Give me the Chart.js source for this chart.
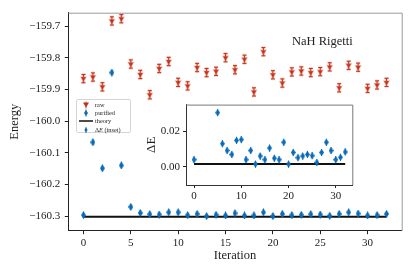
<!DOCTYPE html>
<html>
<head>
<meta charset="utf-8">
<script src="https://cdn.jsdelivr.net/npm/chart.js@4/dist/chart.umd.min.js"></script>
<style>
    html, body { margin: 0; padding: 0; background: #fff; }
    #wrap { position: relative; width: 415px; height: 277px; font-family: "Liberation Serif", serif; color: #222; }
    #mainChart { position: absolute; left: 0; top: 0; }
    #insetChart { position: absolute; left: 140px; top: 95px; }
    #tag { position: absolute; left: 292px; top: 33px; font-size: 12.5px; line-height: 16px; white-space: nowrap; }
    #legend {
        position: absolute; left: 76px; top: 99px; width: 55px; height: 34px;
        border: 1px solid #d4d4d4; border-radius: 2px; background: rgba(255,255,255,0.85);
        box-sizing: border-box; font-size: 6.3px;
    }
    #legend .row { position: absolute; left: 0; height: 8px; width: 100%; }
    #legend svg { position: absolute; left: 1px; top: 0; }
    #legend span { position: absolute; left: 18px; top: 0; line-height: 8px; white-space: nowrap; }
</style>
</head>
<body>
<div id="wrap">
    <canvas id="mainChart" width="415" height="277"></canvas>
    <canvas id="insetChart" width="220" height="110"></canvas>
    <div id="tag">NaH Rigetti</div>
    <div id="legend"></div>
</div>
<script>
const iterations = [0, 1, 2, 3, 4, 5, 6, 7, 8, 9, 10, 11, 12, 13, 14, 15, 16, 17, 18, 19, 20, 21, 22, 23, 24, 25, 26, 27, 28, 29, 30, 31, 32];

const rawEnergy = [-159.866, -159.861, -159.892, -159.684, -159.677, -159.820, -159.853, -159.917, -159.834, -159.812,
    -159.878, -159.889, -159.831, -159.847, -159.843, -159.800, -159.838, -159.805, -159.908, -159.781,
    -159.854, -159.880, -159.845, -159.842, -159.847, -159.844, -159.829, -159.895, -159.824, -159.830,
    -159.897, -159.886, -159.878];

const purifiedEnergy = [-160.297, -160.067, -160.149, -159.847, -160.140, -160.271, -160.290, -160.294, -160.295, -160.288,
    -160.288, -160.297, -160.293, -160.300, -160.296, -160.298, -160.291, -160.298, -160.298, -160.288,
    -160.300, -160.293, -160.297, -160.296, -160.294, -160.295, -160.299, -160.293, -160.288, -160.292,
    -160.298, -160.297, -160.293];

const deltaE = [0.0041, 0.235, 0.153, 0.455, 0.162, 0.0304, 0.0130, 0.0092, 0.0070, 0.0149,
    0.0153, 0.0041, 0.0092, 0.0016, 0.0061, 0.0041, 0.0106, 0.0049, 0.0041, 0.0138,
    0.0016, 0.0081, 0.0052, 0.0061, 0.0070, 0.0063, 0.0025, 0.0081, 0.0138, 0.0092,
    0.0041, 0.0054, 0.0084];

const theoryEnergy = -160.302;
const chemAccuracy = 0.0016;
const rawErr = 0.013;
const purifiedErr = 0.010;
const deltaErr = 0.002;

const xTicks = [0, 5, 10, 15, 20, 25, 30];
const yTicks = [-160.3, -160.2, -160.1, -160.0, -159.9, -159.8, -159.7];
const insetXTicks = [0, 10, 20, 30];
const insetYTicks = [0.00, 0.02];

const RED = "#c0301a";
const BLUE = "#0a6cb9";
const INK = "#222";

function diamond(w, h, color) {
    const c = document.createElement("canvas");
    c.width = w; c.height = h;
    const g = c.getContext("2d");
    g.fillStyle = color;
    g.beginPath();
    g.moveTo(w / 2, 0);
    g.lineTo(w, h / 2);
    g.lineTo(w / 2, h);
    g.lineTo(0, h / 2);
    g.closePath();
    g.fill();
    return c;
}

function toPoints(values) {
    return iterations.map((x, i) => ({ x: x, y: values[i] }));
}

const errorBars = {
    id: "errorBars",
    beforeDatasetDraw(chart, args) {
        const ds = chart.data.datasets[args.index];
        if (!ds.errSize) return;
        const { ctx, chartArea } = chart;
        const yScale = chart.scales.y;
        ctx.save();
        ctx.beginPath();
        ctx.rect(chartArea.left, chartArea.top, chartArea.width, chartArea.height);
        ctx.clip();
        args.meta.data.forEach((pt, i) => {
            const v = ds.data[i].y;
            const y1 = yScale.getPixelForValue(v + ds.errSize);
            const y2 = yScale.getPixelForValue(v - ds.errSize);
            const x = pt.x;
            const cap = ds.errCap || 0;
            const passes = ds.errHalo ? [[ds.errHalo, 2.6], [ds.errColor, 1]] : [[ds.errColor, 1]];
            passes.forEach(([col, lw]) => {
                ctx.strokeStyle = col;
                ctx.lineWidth = lw;
                ctx.beginPath();
                ctx.moveTo(x, y1); ctx.lineTo(x, y2);
                if (cap) {
                    ctx.moveTo(x - cap, y1); ctx.lineTo(x + cap, y1);
                    ctx.moveTo(x - cap, y2); ctx.lineTo(x + cap, y2);
                }
                ctx.stroke();
            });
        });
        ctx.restore();
    }
};

// light top/right spines, and white face for the inset
const frame = {
    id: "frame",
    beforeDraw(chart, args, opts) {
        if (!opts.fill) return;
        const a = chart.chartArea;
        chart.ctx.save();
        chart.ctx.fillStyle = opts.fill;
        chart.ctx.fillRect(a.left, a.top, a.width, a.height);
        chart.ctx.restore();
    },
    afterDraw(chart, args, opts) {
        const a = chart.chartArea;
        const ctx = chart.ctx;
        ctx.save();
        ctx.strokeStyle = opts.color || "#999";
        ctx.lineWidth = 1;
        ctx.beginPath();
        ctx.moveTo(a.left, a.top + 0.5);
        ctx.lineTo(a.right + 0.5, a.top + 0.5);
        ctx.lineTo(a.right + 0.5, a.bottom);
        ctx.stroke();
        ctx.restore();
    }
};

function setTicks(list) {
    return function (scale) {
        scale.ticks = list.map(v => ({ value: v }));
    };
}

const tickFont = { family: "Liberation Serif", size: 11 };

new Chart(document.getElementById("mainChart"), {
    type: "scatter",
    data: {
        datasets: [
            {
                label: "raw",
                data: toPoints(rawEnergy),
                pointStyle: "triangle",
                rotation: 180,
                pointRadius: 3,
                backgroundColor: RED,
                borderColor: "rgba(225,110,90,0.45)",
                borderWidth: 1.2,
                errSize: rawErr,
                errCap: 2,
                errColor: RED,
                errHalo: "rgba(225,110,90,0.35)",
                order: 1
            },
            {
                label: "purified",
                data: toPoints(purifiedEnergy),
                pointStyle: diamond(5, 8, BLUE),
                errSize: purifiedErr,
                errColor: BLUE,
                order: 1
            },
            {
                label: "theory",
                type: "line",
                data: [{ x: 0, y: theoryEnergy }, { x: 32, y: theoryEnergy }],
                borderColor: "#111",
                borderWidth: 2,
                pointRadius: 0,
                order: 3
            }
        ]
    },
    options: {
        responsive: false,
        animation: false,
        devicePixelRatio: 1,
        layout: { padding: { top: 12.7, right: 13.3, left: 0, bottom: 0 } },
        plugins: {
            legend: { display: false },
            tooltip: { enabled: false },
            frame: { color: "#9a9a9a" }
        },
        scales: {
            x: {
                type: "linear",
                min: -1.6,
                max: 33.6,
                afterBuildTicks: setTicks(xTicks),
                afterFit(scale) { scale.height = 46.3; },
                grid: { drawOnChartArea: false, drawTicks: true, tickLength: 3.5, color: INK },
                border: { color: INK, width: 1 },
                ticks: { color: INK, font: tickFont, padding: 2, maxRotation: 0 },
                title: {
                    display: true,
                    text: "Iteration",
                    color: INK,
                    font: { family: "Liberation Serif", size: 12.5 },
                    padding: { top: 0, bottom: 13.5 }
                }
            },
            y: {
                min: -160.346,
                max: -159.658,
                afterBuildTicks: setTicks(yTicks),
                afterFit(scale) { scale.width = 68.3; },
                grid: { drawOnChartArea: false, drawTicks: true, tickLength: 3.5, color: INK },
                border: { color: INK, width: 1 },
                ticks: {
                    color: INK,
                    font: tickFont,
                    padding: 4.5,
                    callback: v => v.toFixed(1).replace("-", "\u2212")
                },
                title: {
                    display: true,
                    text: "Energy",
                    color: INK,
                    font: { family: "Liberation Serif", size: 12.5 },
                    padding: { top: 7, bottom: 0 }
                }
            }
        }
    },
    plugins: [errorBars, frame]
});

new Chart(document.getElementById("insetChart"), {
    type: "scatter",
    data: {
        datasets: [
            {
                label: "\u0394E (inset)",
                data: toPoints(deltaE),
                pointStyle: diamond(5, 7, BLUE),
                errSize: deltaErr,
                errColor: BLUE,
                order: 1
            },
            {
                label: "chemical accuracy",
                type: "line",
                data: [{ x: 0, y: chemAccuracy }, { x: 32, y: chemAccuracy }],
                borderColor: "#111",
                borderWidth: 2,
                pointRadius: 0,
                order: 3
            }
        ]
    },
    options: {
        responsive: false,
        animation: false,
        devicePixelRatio: 1,
        layout: { padding: { top: 6.7, right: 7.7, left: 0, bottom: 0 } },
        plugins: {
            legend: { display: false },
            tooltip: { enabled: false },
            frame: { color: "#777", fill: "#fff" }
        },
        scales: {
            x: {
                type: "linear",
                min: -1.7,
                max: 33.5,
                afterBuildTicks: setTicks(insetXTicks),
                afterFit(scale) { scale.height = 20; },
                grid: { drawOnChartArea: false, drawTicks: true, tickLength: 3, color: INK },
                border: { color: "#333", width: 1 },
                ticks: { color: INK, font: tickFont, padding: 1.5, maxRotation: 0 }
            },
            y: {
                min: -0.0101,
                max: 0.0349,
                afterBuildTicks: setTicks(insetYTicks),
                afterFit(scale) { scale.width = 46; },
                grid: { drawOnChartArea: false, drawTicks: true, tickLength: 3, color: INK },
                border: { color: "#333", width: 1 },
                ticks: { color: INK, font: tickFont, padding: 3, callback: v => v.toFixed(2) },
                title: {
                    display: true,
                    text: "\u0394E",
                    color: INK,
                    font: { family: "Liberation Serif", size: 13 },
                    padding: { top: 4, bottom: 0 }
                }
            }
        }
    },
    plugins: [errorBars, frame]
});

// legend, built by hand so it can sit inside the axes like the original
const legendRows = [
    { text: "raw", svg: '<polygon points="5,1.5 11,1.5 8,6.5" fill="' + RED + '"/><line x1="8" y1="0.5" x2="8" y2="7.5" stroke="' + RED + '" stroke-width="0.8"/>' },
    { text: "purified", svg: '<line x1="8" y1="0.3" x2="8" y2="7.7" stroke="' + BLUE + '" stroke-width="0.8"/><polygon points="8,1 10,4 8,7 6,4" fill="' + BLUE + '"/>' },
    { text: "theory", svg: '<line x1="1" y1="4" x2="15" y2="4" stroke="#111" stroke-width="1.5"/>' },
    { text: "\u0394<i>E</i> (inset)", svg: '<line x1="8" y1="1" x2="8" y2="7" stroke="' + BLUE + '" stroke-width="0.8"/><polygon points="8,1.5 9.6,4 8,6.5 6.4,4" fill="' + BLUE + '"/>' }
];
const legendTops = [0.8, 9.1, 16.8, 25.8];
const legend = document.getElementById("legend");
legendRows.forEach((row, i) => {
    const div = document.createElement("div");
    div.className = "row";
    div.style.top = legendTops[i] + "px";
    div.innerHTML = '<svg width="16" height="8">' + row.svg + '</svg><span>' + row.text + '</span>';
    legend.appendChild(div);
});
</script>
</body>
</html>
